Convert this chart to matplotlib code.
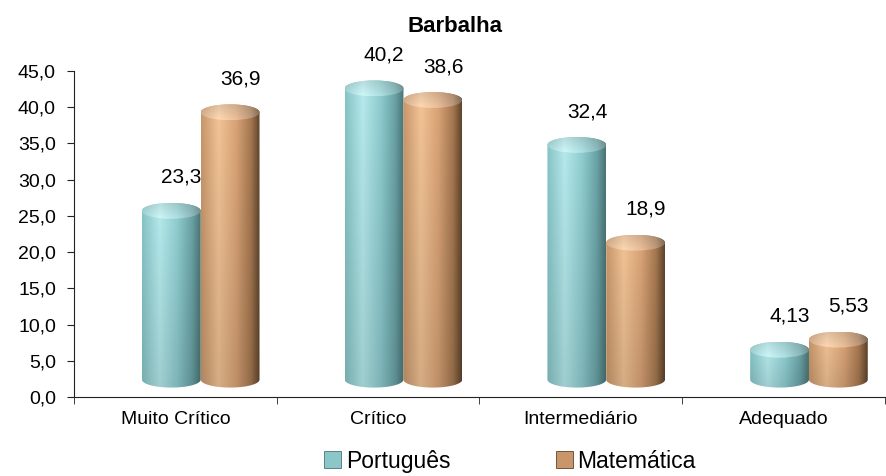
import numpy as np
import matplotlib.pyplot as plt
from matplotlib.patches import Polygon, Ellipse, Patch
from matplotlib.colors import to_rgb

plt.rcParams['font.family'] = ['Liberation Sans', 'DejaVu Sans']

categories = ["Muito Crítico", "Crítico", "Intermediário", "Adequado"]
portugues = [23.3, 40.2, 32.4, 4.13]
matematica = [36.9, 38.6, 18.9, 5.53]
series_names = ["Português", "Matemática"]
yticks = np.arange(0, 46, 5)

# shading stops across the cylinder (left -> right)
stops_t = [0.0, 0.3, 0.6, 0.85, 1.0]
port_cols = ["#86c4c6", "#b6eaec", "#8fcdd0", "#6aa3a6", "#4a7476"]
mat_cols = ["#c8966a", "#f2c496", "#d9a376", "#a57850", "#5e432c"]

DEPTH = 2.4   # fake 3d lift of the cylinders (data units)
RY = 1.1      # half height of the end ellipses
W = 0.29
OFFS = [-0.02, 0.27]


def ramp(cols, n=200):
    t = np.linspace(0, 1, n)
    rgb = np.array([to_rgb(c) for c in cols])
    return np.stack([np.interp(t, stops_t, rgb[:, k]) for k in range(3)], axis=1)


def cylinder(ax, xc, val, cols, z):
    x0, x1 = xc - W / 2, xc + W / 2
    zb, zt = DEPTH, val + DEPTH
    th = np.linspace(np.pi, 2 * np.pi, 80)
    bot = np.column_stack([xc + W / 2 * np.cos(th), zb + RY * np.sin(th)])
    th2 = np.linspace(0, np.pi, 80)
    top = np.column_stack([xc + W / 2 * np.cos(th2), zt + RY * np.sin(th2)])
    verts = np.vstack([[[x0, zt]], bot, top])

    row = ramp(cols)
    shade = np.linspace(0.88, 1.0, 120)[:, None, None]
    img = np.clip(row[None, :, :] * shade, 0, 1)
    im = ax.imshow(img, extent=(x0, x1, zb - RY, zt + RY), origin="lower",
                   aspect="auto", interpolation="bilinear", zorder=z)
    body = Polygon(verts, closed=True, facecolor="none", edgecolor="none")
    ax.add_patch(body)
    im.set_clip_path(body)

    # top face, a bit lighter
    trow = row + (1 - row) * 0.22
    tv = np.linspace(1.04, 0.92, 60)[:, None, None]
    timg = np.clip(trow[None, :, :] * tv, 0, 1)
    im2 = ax.imshow(timg, extent=(x0, x1, zt - RY, zt + RY), origin="lower",
                    aspect="auto", interpolation="bilinear", zorder=z + 0.1)
    ell = Ellipse((xc, zt), W, 2 * RY, facecolor="none", edgecolor="none")
    ax.add_patch(ell)
    im2.set_clip_path(ell)


fig = plt.figure(figsize=(8.87, 4.76), dpi=100)
ax = fig.add_axes([74 / 887, 79 / 476, 811 / 887, 326 / 476])

x = np.arange(len(categories))
for s, (vals, cols) in enumerate([(portugues, port_cols), (matematica, mat_cols)]):
    for i, v in enumerate(vals):
        xc = x[i] + OFFS[s]
        cylinder(ax, xc, v, cols, 2 + s)
        ax.text(xc + 0.05, v + 7, str(v).replace(".", ","), ha="center",
                va="center", fontsize=15, zorder=5)

ax.set_xlim(-0.5, 3.5)
ax.set_ylim(0, 45)

for side in ["top", "right"]:
    ax.spines[side].set_visible(False)
ax.spines["left"].set_color("#222222")
ax.spines["bottom"].set_color("#222222")

ax.set_yticks(yticks)
ax.set_yticklabels([f"{v:.1f}".replace(".", ",") for v in yticks])
ax.tick_params(axis="y", labelsize=14, length=5, pad=8, color="#222222")

ax.set_xticks(x)
ax.set_xticklabels(categories)
ax.set_xticks(np.arange(-0.5, 4.0, 1.0), minor=True)
ax.tick_params(axis="x", which="major", length=0, labelsize=14, pad=10)
ax.tick_params(axis="x", which="minor", length=5, color="#222222")

fig.text(455 / 887, 1 - 27 / 476, "Barbalha", ha="center", va="center",
         fontsize=16, fontweight="bold")

handles = [Patch(facecolor="#8cc6c8", edgecolor="#4a7476", linewidth=0.6),
           Patch(facecolor="#c8966a", edgecolor="#5e432c", linewidth=0.6)]
fig.legend(handles, series_names, loc="center", bbox_to_anchor=(0.575, 0.031),
           ncol=2, frameon=False, fontsize=16.5, handlelength=0.75,
           handleheight=0.75, handletextpad=0.2, columnspacing=4.6)

fig.savefig("out.png", dpi=100)
